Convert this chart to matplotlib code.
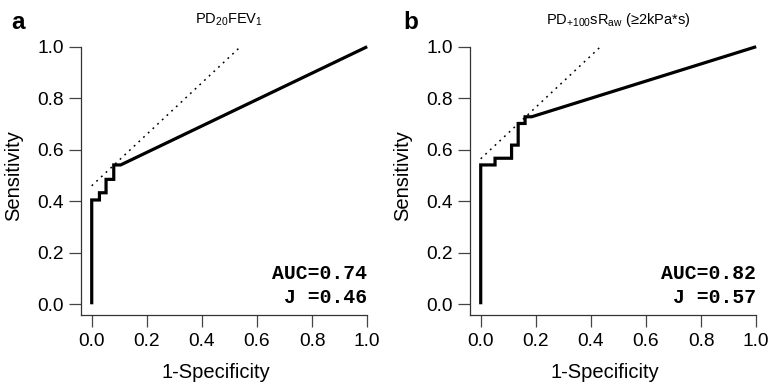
import matplotlib
matplotlib.use("Agg")
import matplotlib.pyplot as plt

plt.rcParams['font.family'] = ['Liberation Sans', 'DejaVu Sans']
plt.rcParams['mathtext.fontset'] = 'custom'
plt.rcParams['mathtext.rm'] = 'Liberation Sans'
plt.rcParams['mathtext.it'] = 'Liberation Sans:italic'
plt.rcParams['mathtext.bf'] = 'Liberation Sans:bold'

# Panel a: PD20FEV1
fpr_a = [0.0, 0.0, 0.028, 0.028, 0.052, 0.052, 0.080, 0.080, 0.105, 1.0]
tpr_a = [0.0, 0.405, 0.405, 0.433, 0.433, 0.485, 0.485, 0.541, 0.541, 1.0]
auc_a = 0.74
j_a = 0.46
tan_x_a = [0.0, 0.54]

# Panel b: PD+100 sRaw
fpr_b = [0.0, 0.0, 0.052, 0.052, 0.112, 0.112, 0.136, 0.136, 0.161, 0.161, 0.185, 1.0]
tpr_b = [0.0, 0.541, 0.541, 0.567, 0.567, 0.618, 0.618, 0.702, 0.702, 0.728, 0.728, 1.0]
auc_b = 0.82
j_b = 0.57
tan_x_b = [0.0, 0.435]

ticks = [0.0, 0.2, 0.4, 0.6, 0.8, 1.0]
tick_labels = ["0.0", "0.2", "0.4", "0.6", "0.8", "1.0"]

W, H = 773, 385
fig = plt.figure(figsize=(W / 100, H / 100), dpi=100)

panels = [
    dict(left=80.7, fpr=fpr_a, tpr=tpr_a, auc=auc_a, j=j_a, tan_x=tan_x_a, j0=0.46,
         letter="a", letter_x=11.7,
         title=r"PD$_{\mathregular{20}}$FEV$_{\mathregular{1}}$"),
    dict(left=469.7, fpr=fpr_b, tpr=tpr_b, auc=auc_b, j=j_b, tan_x=tan_x_b, j0=0.565,
         letter="b", letter_x=403,
         title=r"PD$_{\mathregular{+100}}$sR$_{\mathregular{aw}}$ (≥2kPa*s)"),
]

lo, hi = -0.04, 1.04
ax_bottom_px = 314.6
ax_top_px = 36.4
for p in panels:
    width_px = 297.5
    ax = fig.add_axes([p['left'] / W, (H - ax_bottom_px) / H, width_px / W,
                       (ax_bottom_px - ax_top_px) / H])
    ax.set_xlim(lo, hi)
    ax.set_ylim(lo, hi)
    ax.plot(p['fpr'], p['tpr'], color='black', lw=2.3, solid_joinstyle='miter',
            solid_capstyle='butt', zorder=3)
    tx = p['tan_x']
    ty = [x + p['j0'] for x in tx]
    ax.plot(tx, ty, color='black', lw=1.1, linestyle=(0, (1.2, 3.0)), zorder=2)
    for s in ['top', 'right']:
        ax.spines[s].set_visible(False)
    for s in ['left', 'bottom']:
        ax.spines[s].set_color('#333333')
        ax.spines[s].set_linewidth(0.9)
    ax.spines['left'].set_bounds(lo, 1.0)
    ax.spines['bottom'].set_bounds(lo, 1.0)
    ax.set_xticks(ticks)
    ax.set_xticklabels(tick_labels)
    ax.set_yticks(ticks)
    ax.set_yticklabels(tick_labels)
    ax.tick_params(axis='both', length=8.5, width=0.9, color='#444444',
                   labelsize=13.8, pad=3.5)
    ax.tick_params(axis='x', pad=5)
    ax.set_xlabel("1-Specificity", fontsize=14.5)
    ax.set_ylabel("Sensitivity", fontsize=14.5)
    ax.xaxis.set_label_coords(0.455, -0.175)
    ax.yaxis.set_label_coords(-0.195, 0.5)
    ax.text(1.0, 0.10, f"AUC={p['auc']:.2f}", family='Liberation Mono', weight='bold',
            fontsize=14.2, ha='right', va='baseline')
    ax.text(1.0, 0.005, f"J ={p['j']:.2f}", family='Liberation Mono', weight='bold',
            fontsize=14.2, ha='right', va='baseline')
    ax.set_title(p['title'], fontsize=10.5, pad=9)
    fig.text(p['letter_x'] / W, 1 - 29.3 / H, p['letter'], fontsize=17.5,
             weight='bold', ha='left', va='baseline')

fig.savefig("out.png", dpi=100)
